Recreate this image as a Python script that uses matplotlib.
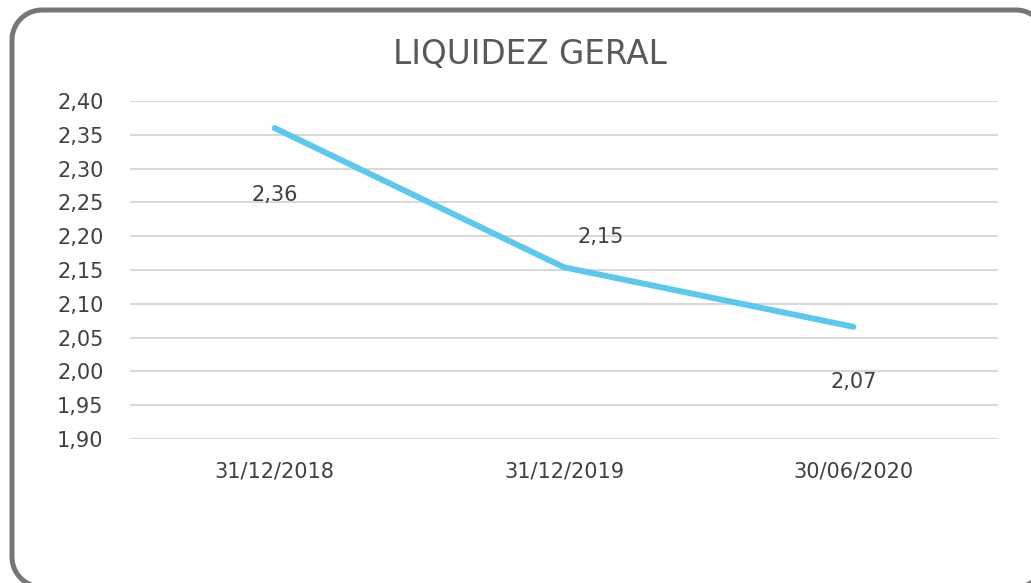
import matplotlib

matplotlib.use("Agg")
import matplotlib.pyplot as plt
import numpy as np
from matplotlib.lines import Line2D

# Dados do gráfico
datas = ["31/12/2018", "31/12/2019", "30/06/2020"]
liquidez = [2.36, 2.154, 2.066]
y_ticks = [1.90, 1.95, 2.00, 2.05, 2.10, 2.15, 2.20, 2.25, 2.30, 2.35, 2.40]

# Deslocamento dos rótulos (pixels) como no original
label_offsets = [(0, -67), (37, 30), (0, -55)]

txt_color = "#404040"
line_color = "#5bc9ef"

W, H = 1031, 583
fig = plt.figure(figsize=(W / 100, H / 100), dpi=100)
ax = fig.add_axes([130 / W, 144 / H, 868 / W, 338 / H])

x = list(range(len(datas)))
ax.plot(x, liquidez, color=line_color, linewidth=4.3, solid_capstyle="round", zorder=3)

for xi, v, off in zip(x, liquidez, label_offsets):
    ax.annotate(
        f"{v:.2f}".replace(".", ","),
        (xi, v),
        xytext=off,
        textcoords="offset pixels",
        ha="center",
        va="center",
        fontsize=15,
        color=txt_color,
    )

ax.set_xlim(-0.5, 2.5)
ax.set_ylim(1.90, 2.40)
ax.set_yticks(y_ticks)
ax.set_yticklabels([f"{t:.2f}".replace(".", ",") for t in y_ticks])
ax.set_xticks(x)
ax.set_xticklabels(datas)
ax.tick_params(axis="both", length=0, labelsize=15, labelcolor=txt_color)
ax.tick_params(axis="y", pad=19)
ax.tick_params(axis="x", pad=16)
ax.grid(axis="y", color="#d9d9d9", linewidth=1.5)
ax.set_axisbelow(True)
for s in ax.spines.values():
    s.set_visible(False)

fig.text(0.514, 1 - 55 / H, "LIQUIDEZ GERAL", ha="center", va="center",
         fontsize=23.5, color="#595959")

# Moldura arredondada desenhada em pixels (cantos em arco de círculo)
x0, y0, x1, y1, r = 12, -4, 1046, 573, 30
t = np.linspace(0, np.pi / 2, 20)
xs, ys = [], []
for cx, cy, a0 in [(x1 - r, y1 - r, 0), (x0 + r, y1 - r, np.pi / 2),
                   (x0 + r, y0 + r, np.pi), (x1 - r, y0 + r, 1.5 * np.pi)]:
    xs.extend(cx + r * np.cos(a0 + t))
    ys.extend(cy + r * np.sin(a0 + t))
xs.append(xs[0])
ys.append(ys[0])
frame = Line2D(np.array(xs) / W, np.array(ys) / H, transform=fig.transFigure,
               color="#767676", linewidth=3.6)
fig.lines.append(frame)

fig.savefig("out.png", dpi=100)
